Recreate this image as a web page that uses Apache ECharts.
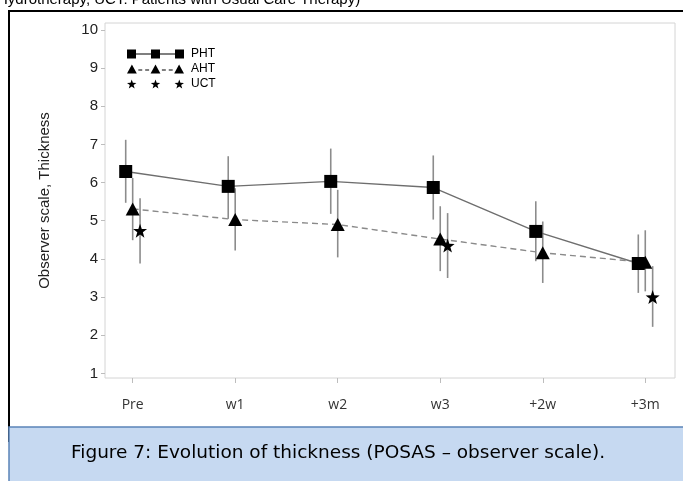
<!DOCTYPE html>
<html>
<head>
<meta charset="utf-8">
<script src="https://cdn.jsdelivr.net/npm/echarts@6/dist/echarts.min.js"></script>
<style>
html,body{margin:0;padding:0;background:#fff;}
#chart{width:683px;height:481px;}
</style>
</head>
<body>
<div id="chart"></div>
<script>
// ---- data ----
const categories = ['Pre', 'w1', 'w2', 'w3', '+2w', '+3m'];
const yTicks = [1, 2, 3, 4, 5, 6, 7, 8, 9, 10];
const phtMean = [6.29, 5.90, 6.03, 5.87, 4.72, 3.88];
const phtLow  = [5.47, 5.05, 5.18, 5.03, 3.94, 3.11];
const phtHigh = [7.12, 6.69, 6.89, 6.71, 5.51, 4.64];
const ahtMean = [5.31, 5.03, 4.90, 4.52, 4.16, 3.91];
const ahtLow  = [4.49, 4.22, 4.04, 3.68, 3.37, 3.15];
const ahtHigh = [6.12, 5.85, 5.81, 5.38, 4.98, 4.75];
const uctMean = [4.74, null, null, 4.35, null, 3.00];
const uctLow  = [3.88, null, null, 3.50, null, 2.22];
const uctHigh = [5.59, null, null, 5.20, null, 3.81];

// ---- helpers ----
const dodge = { PHT: -0.068, AHT: 0, UCT: 0.072 };
function starPath(cx, cy, R, r) {
  let d = '';
  for (let i = 0; i < 10; i++) {
    const rad = (i % 2 === 0) ? R : r;
    const a = -Math.PI / 2 + i * Math.PI / 5;
    const x = (cx + rad * Math.cos(a)).toFixed(2);
    const y = (cy + rad * Math.sin(a)).toFixed(2);
    d += (i === 0 ? 'M' : 'L') + x + ',' + y;
  }
  return d + 'Z';
}
const starSymbol = 'path://' + starPath(10, 10, 10, 4);
const phtIcon = 'path://M0,0H9V9H0Z M24,0H33V9H24Z M48,0H57V9H48Z M9,3.9H24V5.1H9Z M33,3.9H48V5.1H33Z';
const ahtIcon = 'path://M-0.5,9L4.5,0L9.5,9Z M23.5,9L28.5,0L33.5,9Z M47.5,9L52.5,0L57.5,9Z M11,5H15V6H11Z M18,5H22V6H18Z M35,5H39V6H35Z M42,5H46V6H42Z';
const uctIcon = 'path://' + starPath(4.5, 4.5, 5, 2) + ' ' + starPath(28.5, 4.5, 5, 2) + ' ' + starPath(52.5, 4.5, 5, 2);

function pts(means, off) {
  return means.map((v, i) => v == null ? [i + off, null] : [i + off, v]);
}
function bars(lows, highs, off) {
  const out = [];
  lows.forEach((lo, i) => { if (lo != null) out.push([i + off, lo, highs[i]]); });
  return out;
}
function errRender(params, api) {
  const p1 = api.coord([api.value(0), api.value(1)]);
  const p2 = api.coord([api.value(0), api.value(2)]);
  return { type: 'line', shape: { x1: p1[0], y1: p1[1], x2: p2[0], y2: p2[1] },
           style: { stroke: '#8c8c8c', lineWidth: 1.6 } };
}

const chart = echarts.init(document.getElementById('chart'), null, { renderer: 'canvas' });
const option = {
  animation: false,
  backgroundColor: '#ffffff',
  grid: { left: 105, right: 8, top: 23, bottom: 103, show: true,
          borderColor: '#d4d4d4', borderWidth: 1, backgroundColor: '#ffffff' },
  xAxis: {
    type: 'value', min: -0.27, max: 5.29,
    splitLine: { show: false },
    axisLine: { show: false, onZero: false },
    axisTick: { show: true, length: 5, customValues: categories.map((c, i) => i),
                lineStyle: { color: '#bdbdbd' } },
    axisLabel: { customValues: categories.map((c, i) => i), margin: 20,
                 formatter: v => categories[Math.round(v)],
                 fontFamily: 'Open Sans', fontSize: 14, color: '#333' }
  },
  yAxis: {
    type: 'value', min: 0.88, max: 10.18,
    name: 'Observer scale, Thickness', nameLocation: 'middle', nameGap: 53,
    nameTextStyle: { fontFamily: 'Liberation Sans', fontSize: 15, color: '#222' },
    splitLine: { show: false },
    axisLine: { show: false, onZero: false },
    axisTick: { show: true, length: 4, customValues: yTicks, lineStyle: { color: '#bdbdbd' } },
    axisLabel: { customValues: yTicks, margin: 7, fontFamily: 'Liberation Sans',
                 fontSize: 15, color: '#222' }
  },
  legend: {
    orient: 'vertical', left: 122, top: 43, itemGap: 3,
    itemWidth: 57, itemHeight: 9,
    textStyle: { fontFamily: 'Liberation Sans', fontSize: 12, color: '#000', padding: [0, 0, 0, 2] },
    data: [
      { name: 'PHT', icon: phtIcon, itemStyle: { color: '#000' } },
      { name: 'AHT', icon: ahtIcon, itemStyle: { color: '#000' } },
      { name: 'UCT', icon: uctIcon, itemStyle: { color: '#000' } }
    ]
  },
  series: [
    { type: 'custom', name: 'errPHT', renderItem: errRender, encode: { x: 0, y: [1, 2] },
      data: bars(phtLow, phtHigh, dodge.PHT), z: 1, silent: true },
    { type: 'custom', name: 'errAHT', renderItem: errRender, encode: { x: 0, y: [1, 2] },
      data: bars(ahtLow, ahtHigh, dodge.AHT), z: 1, silent: true },
    { type: 'custom', name: 'errUCT', renderItem: errRender, encode: { x: 0, y: [1, 2] },
      data: bars(uctLow, uctHigh, dodge.UCT), z: 1, silent: true },
    { type: 'line', name: 'PHT', data: pts(phtMean, dodge.PHT), symbol: 'rect', symbolSize: 13,
      itemStyle: { color: '#000' }, lineStyle: { color: '#6e6e6e', width: 1.4 }, z: 3 },
    { type: 'line', name: 'AHT', data: pts(ahtMean, dodge.AHT), symbol: 'triangle', symbolSize: [14, 13],
      itemStyle: { color: '#000' }, lineStyle: { color: '#8a8a8a', width: 1.4, type: [6, 4] }, z: 3 },
    { type: 'line', name: 'UCT', data: pts(uctMean, dodge.UCT), symbol: starSymbol, symbolSize: 14,
      connectNulls: false, itemStyle: { color: '#000' }, lineStyle: { width: 0, opacity: 0 }, z: 3 }
  ],
  graphic: [
    { type: 'text', left: -3, top: -8, z: 10,
      style: { text: 'Hydrotherapy, UCT: Patients with Usual Care Therapy)', fontFamily: 'Liberation Sans',
               fontSize: 15, fill: '#000' } },
    { type: 'rect', shape: { x: 9, y: 11, width: 690, height: 430 }, z: -1,
      style: { fill: 'none', stroke: '#000', lineWidth: 2 } },
    { type: 'rect', shape: { x: 9, y: 427, width: 690, height: 70 }, z: 5,
      style: { fill: '#c6d9f1', stroke: '#5b84b8', lineWidth: 1.5 } },
    { type: 'text', x: 338, y: 453, z: 6,
      style: { text: 'Figure 7: Evolution of thickness (POSAS \u2013 observer scale).',
               fontFamily: 'DejaVu Sans', fontSize: 18.5, fill: '#000',
               textAlign: 'center', textVerticalAlign: 'middle' } }
  ]
};
chart.setOption(option);
</script>
</body>
</html>
